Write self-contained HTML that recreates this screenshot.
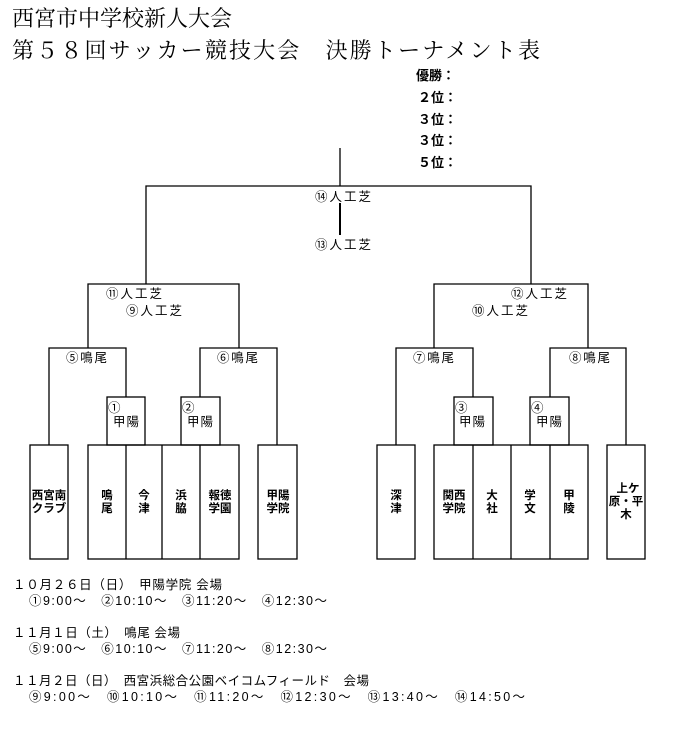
<!DOCTYPE html>
<html><head><meta charset="utf-8"><style>
html,body{margin:0;padding:0;background:#fff;}
svg{display:block;}
.t{font-family:"Liberation Sans","Noto Sans CJK JP",sans-serif;font-size:12.5px;fill:#000;}
.b{font-family:"Liberation Sans","Noto Sans CJK JP",sans-serif;font-size:11.5px;font-weight:bold;fill:#000;}
.h{font-family:"Liberation Serif","Noto Serif CJK SC",serif;font-size:22px;fill:#000;}
</style></head><body>
<svg width="673" height="741" xmlns="http://www.w3.org/2000/svg">
<text class="h" x="12" y="26">西宮市中学校新人大会</text>
<text class="h" x="12" y="58" textLength="528">第５８回サッカー競技大会　決勝トーナメント表</text>
<g class="b" style="font-size:13px">
<text x="416" y="80">優勝：</text>
<text x="418" y="102">２位：</text>
<text x="418" y="124">３位：</text>
<text x="418" y="145">３位：</text>
<text x="418" y="167">５位：</text>
</g>
<g stroke="#000" stroke-width="1.3" fill="none">
<line x1="340" y1="148" x2="340" y2="186"/>
<polyline points="146,284 146,186 531,186 531,284"/>
<line x1="340" y1="203" x2="340" y2="235" stroke-width="2"/>
<polyline points="88,348 88,284 239,284 239,348"/>
<polyline points="434,348 434,284 588,284 588,348"/>
<polyline points="49,445 49,348 126,348 126,397"/>
<polyline points="200,397 200,348 277,348 277,445"/>
<polyline points="396,445 396,348 473,348 473,397"/>
<polyline points="550,397 550,348 626,348 626,445"/>
<rect x="107" y="397" width="38" height="48"/>
<rect x="181" y="397" width="39" height="48"/>
<rect x="454" y="397" width="39" height="48"/>
<rect x="530" y="397" width="39" height="48"/>
<rect x="30" y="445" width="38" height="114"/>
<rect x="88" y="445" width="151" height="114"/>
<line x1="126" y1="445" x2="126" y2="559"/><line x1="162" y1="445" x2="162" y2="559"/><line x1="200" y1="445" x2="200" y2="559"/>
<rect x="258" y="445" width="39" height="114"/>
<rect x="377" y="445" width="38" height="114"/>
<rect x="434" y="445" width="154" height="114"/>
<line x1="473" y1="445" x2="473" y2="559"/><line x1="511" y1="445" x2="511" y2="559"/><line x1="550" y1="445" x2="550" y2="559"/>
<rect x="607" y="445" width="38" height="114"/>
</g>
<g class="t">
<text x="315" y="201" textLength="56">⑭人工芝</text>
<text x="315" y="249" textLength="56">⑬人工芝</text>
<text x="106" y="298" textLength="56">⑪人工芝</text>
<text x="126" y="315" textLength="56">⑨人工芝</text>
<text x="511" y="298" textLength="56">⑫人工芝</text>
<text x="472" y="315" textLength="56">⑩人工芝</text>
<text x="66" y="362" textLength="41">⑤鳴尾</text>
<text x="217" y="362" textLength="41">⑥鳴尾</text>
<text x="413" y="362" textLength="41">⑦鳴尾</text>
<text x="569" y="362" textLength="41">⑧鳴尾</text>
<text x="108" y="412">①</text><text x="113" y="426" textLength="26">甲陽</text>
<text x="182" y="412">②</text><text x="187" y="426" textLength="26">甲陽</text>
<text x="455" y="412">③</text><text x="459" y="426" textLength="26">甲陽</text>
<text x="531" y="412">④</text><text x="536" y="426" textLength="26">甲陽</text>
</g>
<g class="b" text-anchor="middle">
<text x="49" y="499">西宮南</text><text x="49" y="512">クラブ</text>
<text x="107" y="499">鳴</text><text x="107" y="512">尾</text>
<text x="144" y="499">今</text><text x="144" y="512">津</text>
<text x="181" y="499">浜</text><text x="181" y="512">脇</text>
<text x="220" y="499">報徳</text><text x="220" y="512">学園</text>
<text x="278" y="499">甲陽</text><text x="278" y="512">学院</text>
<text x="396" y="499">深</text><text x="396" y="512">津</text>
<text x="454" y="499">関西</text><text x="454" y="512">学院</text>
<text x="492" y="499">大</text><text x="492" y="512">社</text>
<text x="530" y="499">学</text><text x="530" y="512">文</text>
<text x="569" y="499">甲</text><text x="569" y="512">陵</text>
<text x="628" y="492">上ケ</text><text x="626" y="505">原・平</text><text x="626" y="518">木</text>
</g>
<g class="t">
<text x="13" y="589" textLength="209">１０月２６日（日）　甲陽学院 会場</text>
<text x="29" y="605" textLength="298">①9:00～　②10:10～　③11:20～　④12:30～</text>
<text x="13" y="637" textLength="167">１１月１日（土）　鳴尾 会場</text>
<text x="29" y="653" textLength="298">⑤9:00～　⑥10:10～　⑦11:20～　⑧12:30～</text>
<text x="13" y="685" textLength="356">１１月２日（日）　西宮浜総合公園ベイコムフィールド　会場</text>
<text x="29" y="701" textLength="496">⑨9:00～　⑩10:10～　⑪11:20～　⑫12:30～　⑬13:40～　⑭14:50～</text>
</g>
</svg>
</body></html>
